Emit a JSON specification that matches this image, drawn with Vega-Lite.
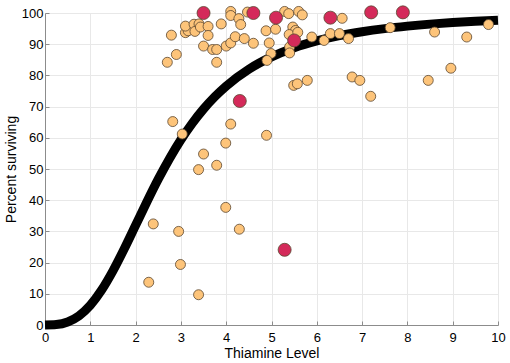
{
  "$schema": "https://vega.github.io/schema/vega-lite/v6.json",
  "width": 453,
  "height": 312,
  "autosize": "none",
  "padding": {"left": 45, "top": 13, "right": 12, "bottom": 38},
  "config": {
    "view": {"stroke": null},
    "font": "Liberation Sans",
    "axis": {
      "labelFont": "Liberation Sans",
      "titleFont": "Liberation Sans",
      "labelFontSize": 13,
      "titleFontSize": 14,
      "titleFontWeight": "normal",
      "labelColor": "#000000",
      "titleColor": "#000000",
      "gridColor": "#e8e8e8",
      "gridWidth": 1,
      "domainColor": "#8c8c8c",
      "tickColor": "#8c8c8c",
      "tickSize": -4,
      "labelOverlap": false
    }
  },
  "datasets": {
    "curve": [
      {"x": 0, "y": 0}, {"x": 0.25, "y": 0.14}, {"x": 0.5, "y": 0.96}, {"x": 0.75, "y": 2.92},
      {"x": 1, "y": 6.32}, {"x": 1.25, "y": 11.19}, {"x": 1.5, "y": 17.34}, {"x": 1.75, "y": 24.41},
      {"x": 2, "y": 31.95}, {"x": 2.25, "y": 39.5}, {"x": 2.5, "y": 46.73}, {"x": 2.75, "y": 53.38},
      {"x": 3, "y": 59.37}, {"x": 3.25, "y": 64.64}, {"x": 3.5, "y": 69.23}, {"x": 3.75, "y": 73.19},
      {"x": 4, "y": 76.58}, {"x": 4.5, "y": 81.97}, {"x": 5, "y": 85.92}, {"x": 5.5, "y": 88.86},
      {"x": 6, "y": 91.05}, {"x": 6.5, "y": 92.72}, {"x": 7, "y": 94.0}, {"x": 7.5, "y": 95.0},
      {"x": 8, "y": 95.79}, {"x": 8.5, "y": 96.43}, {"x": 9, "y": 96.94}, {"x": 9.5, "y": 97.36},
      {"x": 10, "y": 97.7}
    ],
    "points": [
      {"x": 2.29, "y": 13.7, "g": "a"}, {"x": 2.39, "y": 32.4, "g": "a"}, {"x": 2.95, "y": 30.0, "g": "a"},
      {"x": 2.99, "y": 19.4, "g": "a"}, {"x": 3.39, "y": 9.7, "g": "a"}, {"x": 3.99, "y": 37.7, "g": "a"},
      {"x": 4.29, "y": 30.7, "g": "a"}, {"x": 3.39, "y": 49.8, "g": "a"}, {"x": 3.5, "y": 54.8, "g": "a"},
      {"x": 3.79, "y": 51.2, "g": "a"}, {"x": 3.99, "y": 58.3, "g": "a"}, {"x": 4.1, "y": 64.4, "g": "a"},
      {"x": 2.82, "y": 65.2, "g": "a"}, {"x": 3.03, "y": 61.2, "g": "a"}, {"x": 4.89, "y": 60.8, "g": "a"},
      {"x": 2.7, "y": 84.2, "g": "a"}, {"x": 2.9, "y": 86.7, "g": "a"}, {"x": 2.79, "y": 92.9, "g": "a"},
      {"x": 3.1, "y": 93.7, "g": "a"}, {"x": 3.16, "y": 94.3, "g": "a"}, {"x": 3.1, "y": 95.8, "g": "a"},
      {"x": 3.29, "y": 96.4, "g": "a"}, {"x": 3.31, "y": 94.1, "g": "a"}, {"x": 3.4, "y": 96.5, "g": "a"},
      {"x": 3.43, "y": 95.5, "g": "a"}, {"x": 3.6, "y": 95.7, "g": "a"}, {"x": 3.6, "y": 92.8, "g": "a"},
      {"x": 3.5, "y": 89.4, "g": "a"}, {"x": 3.7, "y": 88.3, "g": "a"}, {"x": 3.79, "y": 88.3, "g": "a"},
      {"x": 3.79, "y": 84.2, "g": "a"}, {"x": 3.89, "y": 96.5, "g": "a"}, {"x": 4.0, "y": 89.4, "g": "a"},
      {"x": 4.1, "y": 90.4, "g": "a"}, {"x": 4.2, "y": 92.4, "g": "a"}, {"x": 4.4, "y": 91.8, "g": "a"},
      {"x": 4.1, "y": 100.5, "g": "a"}, {"x": 4.1, "y": 99.2, "g": "a"}, {"x": 4.28, "y": 98.2, "g": "a"},
      {"x": 4.32, "y": 96.3, "g": "a"}, {"x": 4.47, "y": 100.3, "g": "a"}, {"x": 4.6, "y": 90.3, "g": "a"},
      {"x": 4.88, "y": 94.3, "g": "a"}, {"x": 5.09, "y": 94.8, "g": "a"}, {"x": 4.95, "y": 90.4, "g": "a"},
      {"x": 4.99, "y": 87.0, "g": "a"}, {"x": 4.9, "y": 84.8, "g": "a"}, {"x": 5.29, "y": 100.5, "g": "a"},
      {"x": 5.38, "y": 99.8, "g": "a"}, {"x": 5.6, "y": 100.5, "g": "a"}, {"x": 5.68, "y": 99.4, "g": "a"},
      {"x": 5.47, "y": 95.5, "g": "a"}, {"x": 5.53, "y": 94.4, "g": "a"}, {"x": 5.39, "y": 93.1, "g": "a"},
      {"x": 5.58, "y": 93.8, "g": "a"}, {"x": 5.4, "y": 89.1, "g": "a"}, {"x": 5.4, "y": 87.2, "g": "a"},
      {"x": 5.89, "y": 92.3, "g": "a"}, {"x": 6.16, "y": 91.2, "g": "a"}, {"x": 6.3, "y": 93.4, "g": "a"},
      {"x": 6.5, "y": 93.4, "g": "a"}, {"x": 6.7, "y": 91.8, "g": "a"}, {"x": 6.56, "y": 98.3, "g": "a"},
      {"x": 7.62, "y": 95.3, "g": "a"}, {"x": 8.6, "y": 93.9, "g": "a"}, {"x": 9.31, "y": 92.3, "g": "a"},
      {"x": 9.79, "y": 96.3, "g": "a"}, {"x": 5.49, "y": 76.8, "g": "a"}, {"x": 5.57, "y": 77.3, "g": "a"},
      {"x": 5.79, "y": 78.4, "g": "a"}, {"x": 6.78, "y": 79.5, "g": "a"}, {"x": 6.95, "y": 78.4, "g": "a"},
      {"x": 7.19, "y": 73.3, "g": "a"}, {"x": 8.46, "y": 78.4, "g": "a"}, {"x": 8.96, "y": 82.3, "g": "a"},
      {"x": 3.5, "y": 100.0, "g": "b"}, {"x": 4.6, "y": 100.0, "g": "b"}, {"x": 5.1, "y": 98.5, "g": "b"},
      {"x": 6.3, "y": 98.5, "g": "b"}, {"x": 7.2, "y": 100.2, "g": "b"}, {"x": 7.9, "y": 100.2, "g": "b"},
      {"x": 5.5, "y": 91.2, "g": "b"}, {"x": 4.3, "y": 71.8, "g": "b"}, {"x": 5.29, "y": 24.1, "g": "b"}
    ]
  },
  "encoding": {
    "x": {
      "field": "x", "type": "quantitative",
      "scale": {"domain": [0, 10], "nice": false},
      "axis": {"values": [0,1,2,3,4,5,6,7,8,9,10], "title": "Thiamine Level", "labelPadding": 10, "titlePadding": 2, "labelFlush": false}
    },
    "y": {
      "field": "y", "type": "quantitative",
      "scale": {"domain": [0, 100], "nice": false},
      "axis": {"values": [0,10,20,30,40,50,60,70,80,90,100], "title": "Percent surviving", "labelPadding": 6, "titlePadding": 3, "labelFlush": false}
    }
  },
  "layer": [
    {
      "data": {"name": "curve"},
      "mark": {"type": "line", "color": "#000000", "strokeWidth": 9, "strokeCap": "butt", "strokeJoin": "round", "interpolate": "monotone"},
      "encoding": {}
    },
    {
      "data": {"name": "points"},
      "mark": {"type": "point", "filled": true, "opacity": 1, "strokeWidth": 0.8, "stroke": "#5a4630", "strokeOpacity": 1},
      "encoding": {
        "color": {
          "field": "g", "type": "nominal",
          "scale": {"domain": ["a", "b"], "range": ["#fdc47a", "#d42a5a"]},
          "legend": null
        },
        "size": {
          "field": "g", "type": "nominal",
          "scale": {"domain": ["a", "b"], "range": [100, 170]},
          "legend": null
        }
      }
    }
  ]
}
